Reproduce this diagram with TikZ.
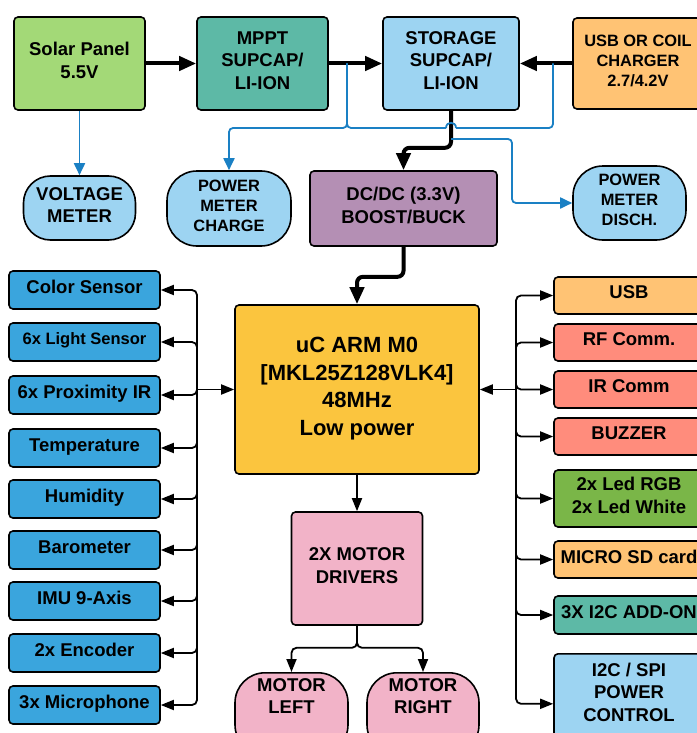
\documentclass[tikz,border=0pt]{standalone}
\usepackage{fontspec}
\setmainfont{Liberation Sans}
\usetikzlibrary{arrows.meta}
\definecolor{cSolar}{HTML}{A3D977}
\definecolor{cTeal}{HTML}{5DB9A6}
\definecolor{cLBlue}{HTML}{9DD4F2}
\definecolor{cOrange}{HTML}{FFC374}
\definecolor{cPurple}{HTML}{B48FB4}
\definecolor{cYellow}{HTML}{FBC53E}
\definecolor{cSensor}{HTML}{3AA5DD}
\definecolor{cSalmon}{HTML}{FF8C7C}
\definecolor{cGreen}{HTML}{7AB648}
\definecolor{cPink}{HTML}{F2B3C8}
\definecolor{cWire}{HTML}{1A80C4}
\begin{document}
\begin{tikzpicture}[x=1pt,y=-1pt,
  box/.style={draw=black, line width=1.6pt, rounded corners=4pt, align=center,
    font=\bfseries\fontsize{18.5}{22.5}\selectfont, inner sep=0pt,
    execute at end node={\rule[-6pt]{0pt}{0pt}}},
  smalltxt/.style={font=\bfseries\fontsize{16.4}{20}\selectfont},
  pill/.style={box, rounded corners=27pt},
  txt/.style={align=center, font=\bfseries\fontsize{18.5}{22.5}\selectfont, inner sep=0pt},
  bigline/.style={line width=4pt, -{Triangle[length=17pt,width=14pt]}, rounded corners=6pt},
  wire/.style={line width=1.8pt, rounded corners=5pt},
  wirearrow/.style={wire, -{Triangle[length=13pt,width=10pt]}},
  blueline/.style={draw=cWire, line width=1.8pt, rounded corners=4pt},
  bluearrow/.style={blueline, -{Triangle[length=12pt,width=11pt]}},
  sensor/.style={box, fill=cSensor, minimum width=151pt, minimum height=38pt},
  rbox/.style={box, minimum width=150pt}
]
\useasboundingbox (0,0) rectangle (696,733);
\fill[white] (0,0) rectangle (696,733);

% top row
\node[box, fill=cSolar, minimum width=131pt, minimum height=93pt] (solar) at (79.5,63.5) {Solar Panel\\5.5V};
\node[box, fill=cTeal, minimum width=131pt, minimum height=93pt] (mppt) at (262.5,63.5) {MPPT\\SUPCAP/\\LI-ION};
\node[box, fill=cLBlue, minimum width=136pt, minimum height=93pt] (storage) at (451,63.5) {STORAGE\\SUPCAP/\\LI-ION};
\node[box, smalltxt, fill=cOrange, minimum width=130pt, minimum height=91pt] (charger) at (638,63.5) {USB OR COIL\\CHARGER\\2.7/4.2V};

% second row
\node[pill, fill=cLBlue, minimum width=112pt, minimum height=64pt] (vmeter) at (79.5,208) {VOLTAGE\\METER};
\node[pill, smalltxt, rounded corners=30pt, fill=cLBlue, minimum width=124pt, minimum height=75pt] (pmc) at (229,208.5) {POWER\\METER\\CHARGE};
\node[box, fill=cPurple, minimum width=187pt, minimum height=75pt] (dcdc) at (403.5,208.5) {DC/DC (3.3V)\\BOOST/BUCK};
\node[pill, smalltxt, rounded corners=30pt, fill=cLBlue, minimum width=113pt, minimum height=74pt] (pmd) at (629.5,203) {POWER\\METER\\DISCH.};

% microcontroller
\node[box, fill=cYellow, minimum width=244pt, minimum height=169pt,
  execute at end node={}, font=\bfseries\fontsize{22}{27.5}\selectfont] (uc) at (357,389.5) {uC ARM M0\\[0pt][MKL25Z128VLK4]\\48MHz\\Low power};

% motor drivers
\node[box, fill=cPink, minimum width=131pt, minimum height=113pt] (drv) at (357,568.5) {2X MOTOR\\DRIVERS};
\node[pill, rounded corners=30pt, fill=cPink, minimum width=113pt, minimum height=82pt, anchor=north] (ml) at (291.5,672) {};
\node[txt] (mlt) at (291.5,696) {MOTOR\\LEFT};
\node[pill, rounded corners=30pt, fill=cPink, minimum width=112pt, minimum height=82pt, anchor=north] (mr) at (423,672) {};
\node[txt] (mrt) at (423,696) {MOTOR\\RIGHT};

% left sensors
\node[sensor] (s1) at (84.5,290) {Color Sensor};
\node[sensor, font=\bfseries\fontsize{16.5}{20}\selectfont] (s2) at (84.5,342) {6x Light Sensor};
\node[sensor] (s3) at (84.5,395) {6x Proximity IR};
\node[sensor] (s4) at (84.5,448) {Temperature};
\node[sensor] (s5) at (84.5,499) {Humidity};
\node[sensor] (s6) at (84.5,550) {Barometer};
\node[sensor] (s7) at (84.5,601) {IMU 9-Axis};
\node[sensor] (s8) at (84.5,653) {2x Encoder};
\node[sensor] (s9) at (84.5,705) {3x Microphone};

% right peripherals
\node[rbox, fill=cOrange, minimum height=37pt] (r1) at (629,295.5) {USB};
\node[rbox, fill=cSalmon, minimum height=37pt] (r2) at (629,342.5) {RF Comm.};
\node[rbox, fill=cSalmon, minimum height=37pt] (r3) at (629,389.5) {IR Comm};
\node[rbox, fill=cSalmon, minimum height=37pt] (r4) at (629,436.5) {BUZZER};
\node[rbox, fill=cGreen, minimum height=57pt] (r5) at (629,498.5) {2x Led RGB\\2x Led White};
\node[rbox, fill=cOrange, minimum height=37pt] (r6) at (629,559.5) {MICRO SD card};
\node[rbox, fill=cTeal, minimum height=38pt] (r7) at (629,615) {3X I2C ADD-ON};
\node[rbox, fill=cLBlue, minimum height=100pt, anchor=north] (r8) at (629,653) {};
\node[txt] (r8t) at (629,692) {I2C / SPI\\POWER\\CONTROL};

% power path
\draw[bigline] (solar.east) -- (mppt.west);
\draw[bigline] (mppt.east) -- (storage.west);
\draw[bigline] (charger.west) -- (storage.east);
\draw[bigline] (storage.south) -- ++(0,37) -| (dcdc.north);
\draw[bigline] (dcdc.south) -- ++(0,30) -| (uc.north);

% meters
\coordinate (j1) at (347,63.5);
\coordinate (j2) at (553,63.5);
\coordinate (j3) at (451,139);
\draw[bluearrow] (solar.south) -- (vmeter.north);
\draw[bluearrow] (j1) -- (347,128) -| (pmc.north);
\draw[blueline] (j2) |- (456,128);
\draw[draw=cWire, line width=1.8pt] (456,128) .. controls (456,121) and (446,121) .. (446,128);
\draw[blueline] (446,128) -| (j1);
\draw[bluearrow] (j3) -| (512,170) |- (pmd.west);

% motors
\draw[wirearrow] (uc.south) -- (drv.north);
\draw[wirearrow] (drv.south) -- ++(0,22) -| (ml.north);
\draw[wirearrow] (drv.south) -- ++(0,22) -| (mr.north);

% left bus
\coordinate (jl) at (197,389.5);
\draw[wirearrow] (jl) -- (uc.west);
\foreach \s in {s1,s2,s3,s4,s5,s6,s7,s8,s9}
  \draw[wirearrow] (jl) |- (\s.east);

% right bus
\coordinate (jr) at (516,389.5);
\draw[wirearrow] (jr) -- (uc.east);
\foreach \r in {r1,r2,r3,r4,r5,r6,r7,r8}
  \draw[wirearrow] (jr) |- (\r.west);
\end{tikzpicture}
\end{document}
